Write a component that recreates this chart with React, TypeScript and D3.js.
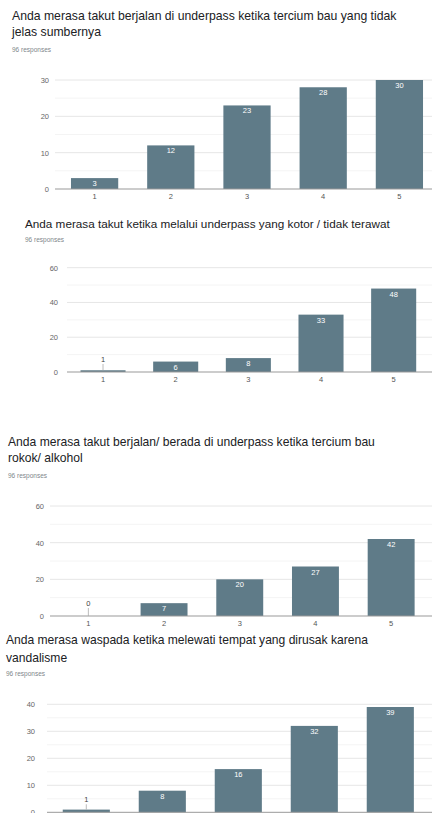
import { useRef, useEffect } from "react";
import * as d3 from "d3";

const categories = ["1", "2", "3", "4", "5"];

const valuesBau = [3, 12, 23, 28, 30];
const valuesKotor = [1, 6, 8, 33, 48];
const valuesRokok = [0, 7, 20, 27, 42];
const valuesVandal = [1, 8, 16, 32, 39];

const titleBau = [
  "Anda merasa takut berjalan di underpass ketika tercium bau yang tidak",
  "jelas sumbernya",
];
const titleKotor = [
  "Anda merasa takut ketika melalui underpass yang kotor / tidak terawat",
];
const titleRokok = [
  "Anda merasa takut berjalan/ berada di underpass ketika tercium bau",
  "rokok/ alkohol",
];
const titleVandal = [
  "Anda merasa waspada ketika melewati tempat yang dirusak karena",
  "vandalisme",
];

const yMaxes = [30, 60, 60, 40];
const yTickSteps = [10, 20, 20, 10];
const responsesLabel = "96 responses";

const width = 432;
const height = 813;
const barColor = "#5f7b88";
const font = "'Liberation Sans', Arial, sans-serif";

// layout of each panel
const panels = [
  { values: valuesBau, title: titleBau, titleX: 12, titleY: [19.5, 36], titleW: 385, respY: 51.5, left: 55, x0: 56.5, x1: 437.5, y0: 189, yTop: 80, labelX: 49 },
  { values: valuesKotor, title: titleKotor, titleX: 25, titleY: [227.5], titleW: 365, respY: 241.5, left: 67, x0: 66.7, x1: 430, y0: 372, yTop: 267.7, labelX: 58 },
  { values: valuesRokok, title: titleRokok, titleX: 8, titleY: [446, 461.5], titleW: 367, respY: 477.5, left: 50, x0: 50.5, x1: 429, y0: 616, yTop: 506, labelX: 44 },
  { values: valuesVandal, title: titleVandal, titleX: 6, titleY: [644, 661.5], titleW: 362, respY: 675.5, left: 47, x0: 48.3, x1: 428.3, y0: 812.3, yTop: 704.3, labelX: 35 },
];

export default function App() {
  const ref = useRef<SVGSVGElement | null>(null);

  useEffect(() => {
    const svg = d3.select(ref.current);
    svg.selectAll("*").remove();

    svg.append("rect").attr("width", width).attr("height", height).attr("fill", "#fff");

    panels.forEach((p, i) => {
      const g = svg.append("g");
      const max = yMaxes[i];
      const step = yTickSteps[i];

      const x = d3
        .scaleBand<string>()
        .domain(categories)
        .range([p.x0, p.x1])
        .paddingInner(0.38)
        .paddingOuter(0.19);

      const y = d3.scaleLinear().domain([0, max]).range([p.y0, p.yTop]);

      // title: size fitted so the first line spans the same width as the screenshot
      const lines = p.title.map((line, li) =>
        g
          .append("text")
          .attr("x", p.titleX)
          .attr("y", p.titleY[li])
          .attr("font-family", font)
          .attr("font-size", 14)
          .attr("fill", "#202124")
          .text(line)
      );
      const natural = (lines[0].node() as SVGTextElement).getComputedTextLength();
      const fs = natural > 0 ? (14 * p.titleW) / natural : 12;
      lines.forEach((t) => t.attr("font-size", fs));

      g.append("text")
        .attr("x", p.titleX)
        .attr("y", p.respY)
        .attr("font-family", font)
        .attr("font-size", 6.5)
        .attr("fill", "#80868b")
        .text(responsesLabel);

      // grid
      const minor = d3.range(step / 2, max + 0.01, step / 2).filter((v) => v % step !== 0);
      g.selectAll(".minor")
        .data(minor)
        .join("line")
        .attr("x1", p.left)
        .attr("x2", width)
        .attr("y1", (d) => y(d))
        .attr("y2", (d) => y(d))
        .attr("stroke", "#f4f4f4")
        .attr("stroke-width", 1);
      g.selectAll(".major")
        .data(d3.range(step, max + 0.01, step))
        .join("line")
        .attr("x1", p.left)
        .attr("x2", width)
        .attr("y1", (d) => y(d))
        .attr("y2", (d) => y(d))
        .attr("stroke", "#e6e6e6")
        .attr("stroke-width", 1);

      // y tick labels
      const yAxis = g
        .append("g")
        .attr("transform", `translate(${p.labelX + 3},0)`)
        .call(d3.axisLeft(y).tickValues(d3.range(0, max + 0.01, step)).tickSize(0).tickPadding(3));
      yAxis.select(".domain").remove();
      yAxis
        .selectAll("text")
        .attr("font-family", font)
        .attr("font-size", 7.5)
        .attr("fill", "#666");

      // bars
      g.selectAll(".bar")
        .data(p.values)
        .join("rect")
        .attr("x", (_, j) => x(categories[j])!)
        .attr("width", x.bandwidth())
        .attr("y", (d) => y(d))
        .attr("height", (d) => p.y0 - y(d))
        .attr("fill", barColor);

      // baseline
      g.append("line")
        .attr("x1", p.left)
        .attr("x2", width)
        .attr("y1", p.y0)
        .attr("y2", p.y0)
        .attr("stroke", "#999")
        .attr("stroke-width", 1);

      // value labels
      p.values.forEach((v, j) => {
        const cx = x(categories[j])! + x.bandwidth() / 2;
        const h = p.y0 - y(v);
        if (h >= 9) {
          g.append("text")
            .attr("x", cx)
            .attr("y", y(v) + 8)
            .attr("text-anchor", "middle")
            .attr("font-family", font)
            .attr("font-size", 7.5)
            .attr("fill", "#fff")
            .text(v);
        } else {
          g.append("line")
            .attr("x1", cx)
            .attr("x2", cx)
            .attr("y1", p.y0 - 8)
            .attr("y2", y(v))
            .attr("stroke", "#aaa")
            .attr("stroke-width", 0.8);
          g.append("text")
            .attr("x", cx)
            .attr("y", p.y0 - 10)
            .attr("text-anchor", "middle")
            .attr("font-family", font)
            .attr("font-size", 7.5)
            .attr("fill", "#444")
            .text(v);
        }
      });

      // x tick labels (the last panel's labels fall below the cropped picture)
      if (p.y0 + 12 < height) {
        const xAxis = g
          .append("g")
          .attr("transform", `translate(0,${p.y0})`)
          .call(d3.axisBottom(x).tickSize(0).tickPadding(5));
        xAxis.select(".domain").remove();
        xAxis
          .selectAll("text")
          .attr("font-family", font)
          .attr("font-size", 7.5)
          .attr("fill", "#555");
      }
    });
  }, []);

  return (
    <div style={{ position: "absolute", left: 0, top: 0 }}>
      <svg ref={ref} width={width} height={height} style={{ display: "block" }} />
    </div>
  );
}
